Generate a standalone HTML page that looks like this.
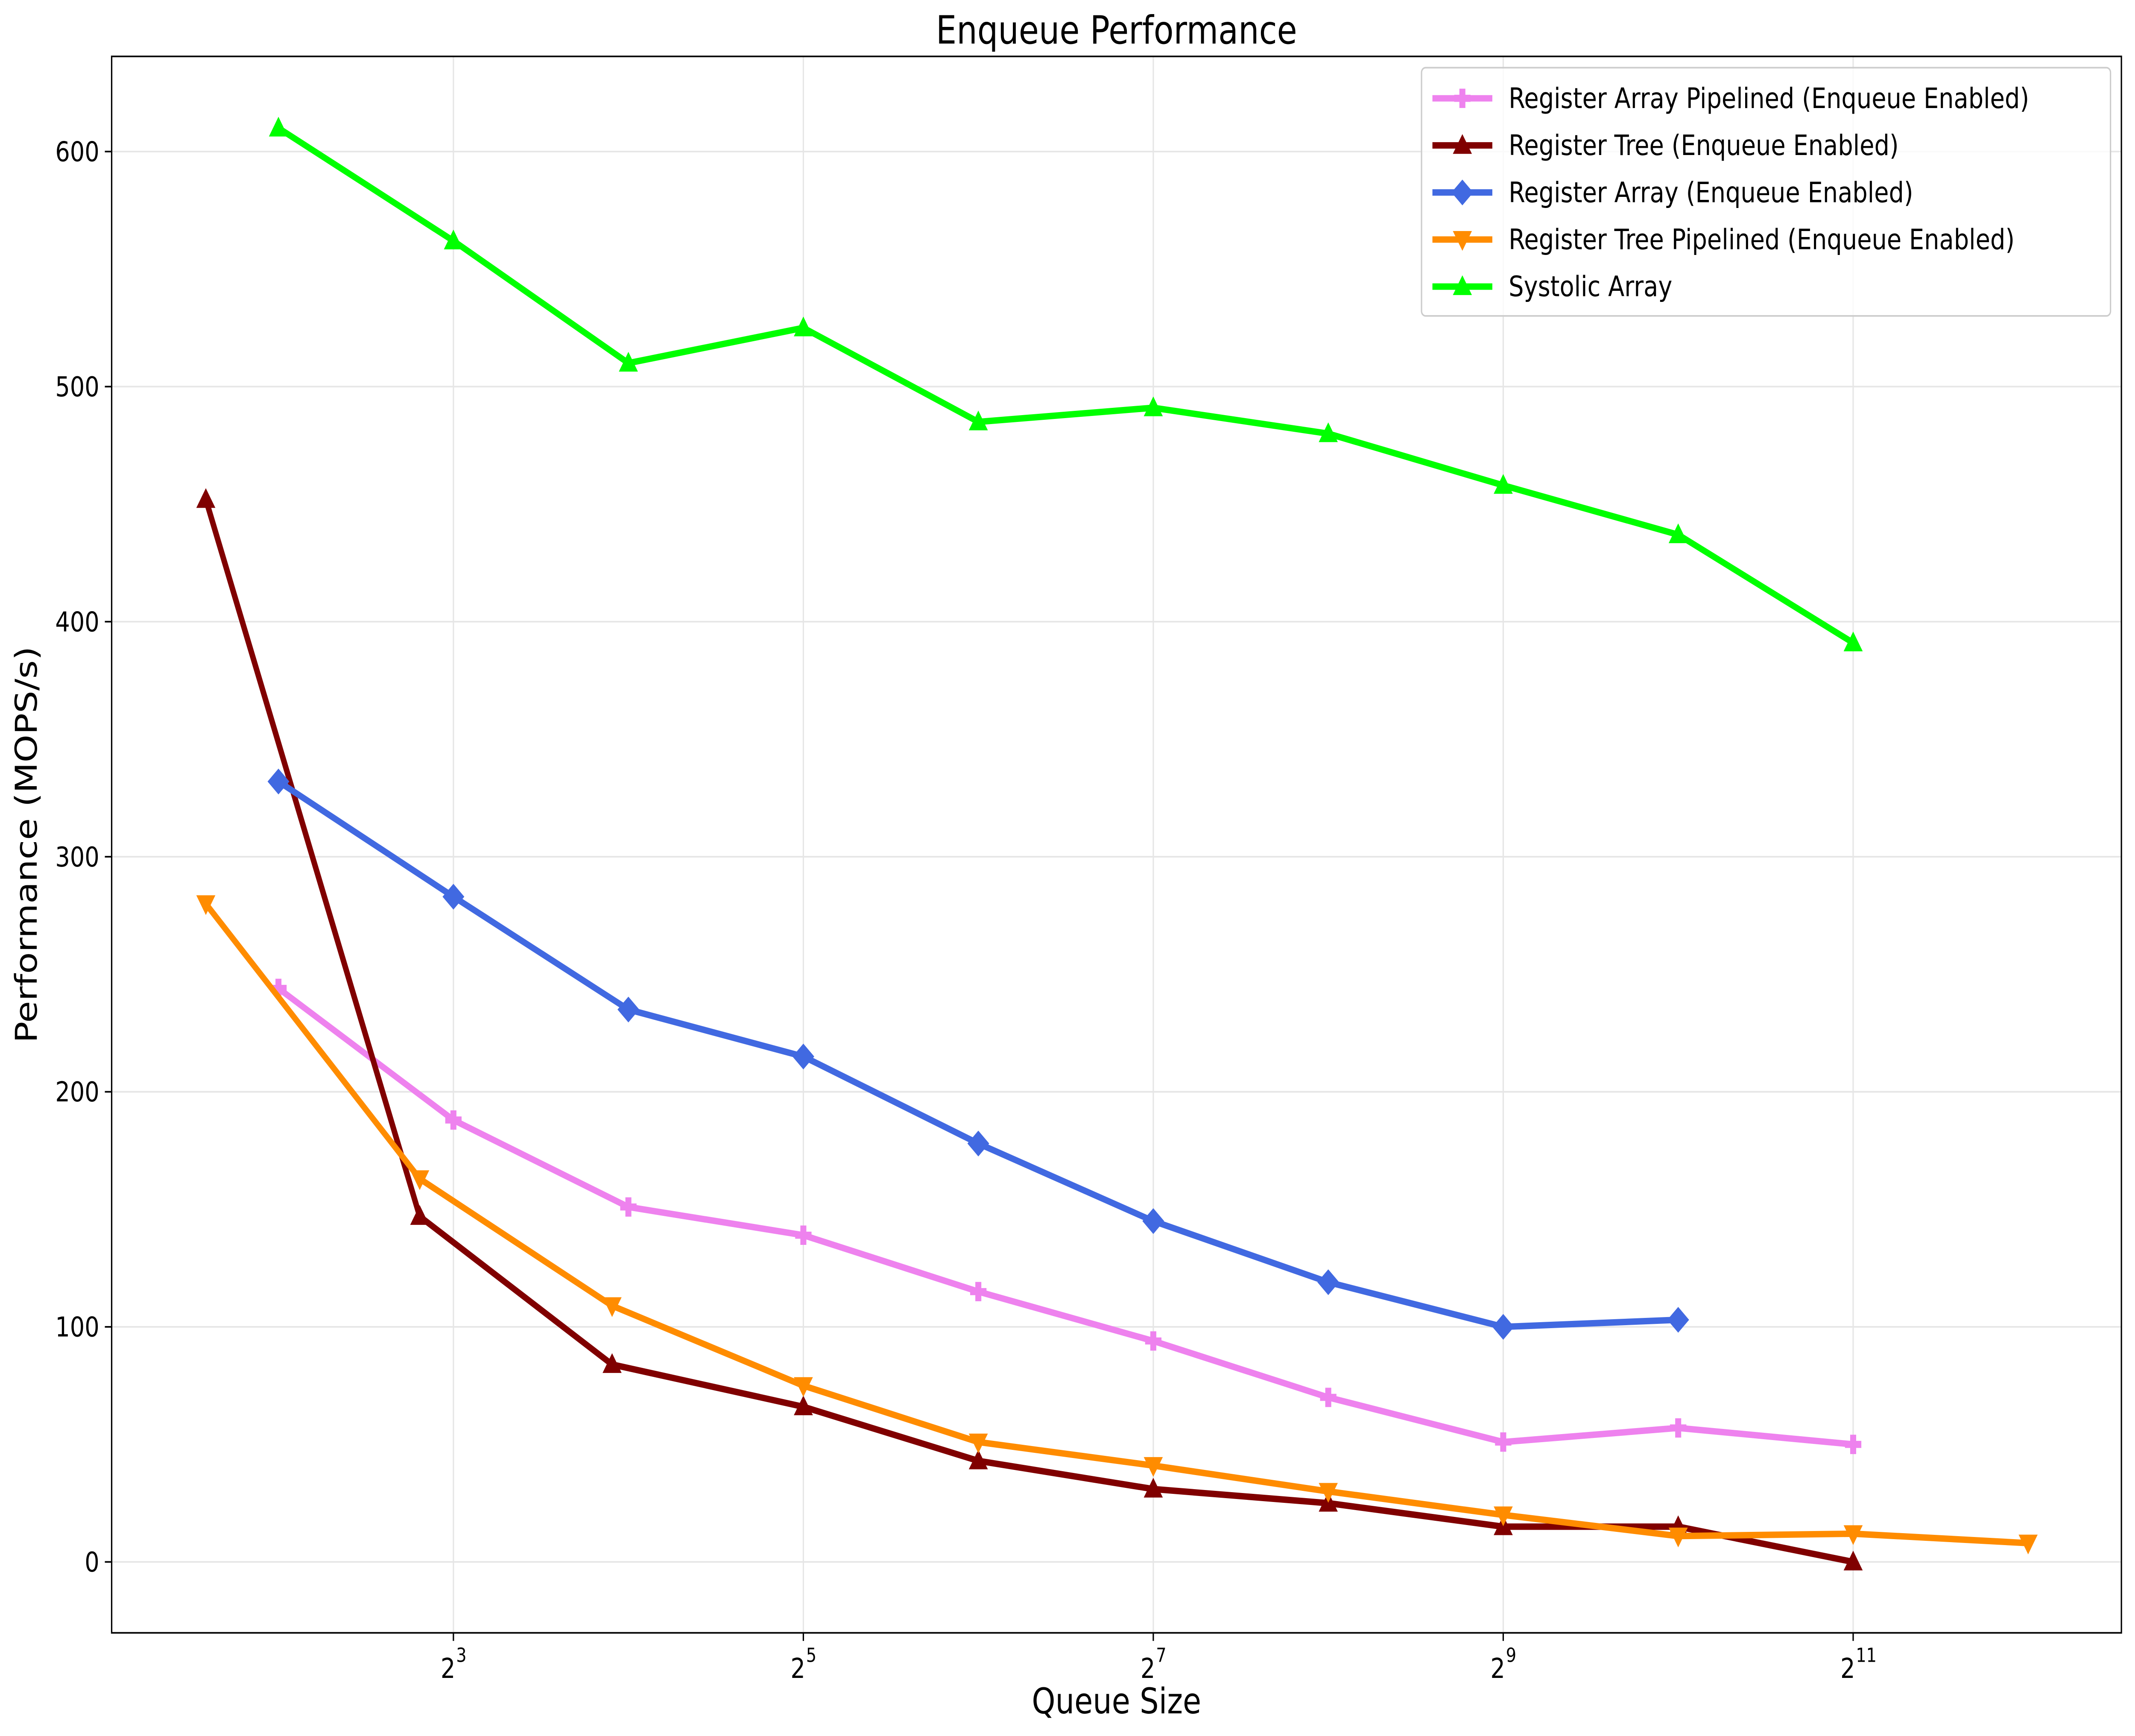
<!DOCTYPE html>
<html><head><meta charset="utf-8"><style>html,body{margin:0;padding:0;background:#fff;width:5000px;height:4065px;overflow:hidden}svg{display:block;width:5000px;height:4065px}text{font-family:"DejaVu Sans","Liberation Sans",sans-serif}</style></head>
<body>
<svg width="5000" height="4065" xmlns="http://www.w3.org/2000/svg">
<g id="chart" transform="scale(3.1888 3.7744)">
<rect x="0" y="0" width="1568" height="1077" fill="#fff"/>
<g id="grid"></g>
<g id="axes"></g>
<g id="series"></g>
<g id="legend"></g>
</g>
</svg>
<script>
const xTickExps = [3, 5, 7, 9, 11];
const yTicks = [0, 100, 200, 300, 400, 500, 600];
const sizesSys = [4, 8, 16, 32, 64, 128, 256, 512, 1024, 2048];
const valsSys = [610, 562, 510, 525, 485, 491, 480, 458, 437, 391];
const sizesBlue = [4, 8, 16, 32, 64, 128, 256, 512, 1024];
const valsBlue = [332, 283, 235, 215, 178, 145, 119, 100, 103];
const sizesPink = [4, 8, 16, 32, 64, 128, 256, 512, 1024, 2048];
const valsPink = [244, 188, 151, 139, 115, 94, 70, 51, 57, 50];
const sizesTree = [3, 7, 15, 32, 64, 128, 256, 512, 1024, 2048];
const valsTree = [452, 147, 84, 66, 43, 31, 25, 15, 15, 0];
const sizesOrange = [3, 7, 15, 32, 64, 128, 256, 512, 1024, 2048, 4096];
const valsOrange = [280, 163, 109, 75, 51, 41, 30, 20, 11, 12, 8];

const NS = 'http://www.w3.org/2000/svg';
const L = 82, R = 1558, T = 35, B = 1013;
function xs(v) { return 333 + (Math.log2(v) - 3) * 128.5; }
function ys(v) { return 969 - v * 1.4583; }
function mk(tag, attrs, parent) { const e = document.createElementNS(NS, tag); for (const k in attrs) e.setAttribute(k, attrs[k]); parent.appendChild(e); return e; }
const grid = document.getElementById('grid'), axes = document.getElementById('axes'), ser = document.getElementById('series'), leg = document.getElementById('legend');

yTicks.forEach(v => {
  const g = mk('line', {x1: L, x2: R, y1: ys(v), y2: ys(v), stroke: '#e6e6e6', 'stroke-width': 1}, grid);
  
  
  mk('line', {x1: L - 5, x2: L, y1: ys(v), y2: ys(v), stroke: '#000', 'stroke-width': 1}, axes);
  const t = mk('text', {x: L - 9, y: ys(v) + 6, 'text-anchor': 'end', 'font-size': 17}, axes);
  t.textContent = v;
  
  
});
xTickExps.forEach(e => {
  const x = xs(Math.pow(2, e));
  const g = mk('line', {x1: x, x2: x, y1: T, y2: B, stroke: '#e6e6e6', 'stroke-width': 1}, grid);
  
  
  mk('line', {x1: x, x2: x, y1: B, y2: B + 5, stroke: '#000', 'stroke-width': 1}, axes);
  const t = mk('text', {x: x - 4, y: B + 28, 'text-anchor': 'middle', 'font-size': 17}, axes);
  t.textContent = '2';
  
  
  const s = mk('text', {x: x + 2, y: B + 18, 'text-anchor': 'start', 'font-size': 12}, axes);
  s.textContent = e;
  
  
});
const frame = mk('rect', {x: L, y: T, width: R - L, height: B - T, fill: 'none', stroke: '#000', 'stroke-width': 1}, axes);



function marker(type, x, y, color, parent) {
  let el;
  const s = 7;
  if (type === 'tri-up') el = mk('polygon', {points: `${x},${y-s} ${x-s},${y+s*0.75} ${x+s},${y+s*0.75}`, fill: color}, parent);
  else if (type === 'tri-down') el = mk('polygon', {points: `${x},${y+s} ${x-s},${y-s*0.75} ${x+s},${y-s*0.75}`, fill: color}, parent);
  else if (type === 'diamond') el = mk('polygon', {points: `${x},${y-8} ${x+8},${y} ${x},${y+8} ${x-8},${y}`, fill: color}, parent);
  else { const a = 6, w = 2.2; el = mk('path', {d: `M${x-w},${y-a}H${x+w}V${y-w}H${x+a}V${y+w}H${x+w}V${y+a}H${x-w}V${y+w}H${x-a}V${y-w}H${x-w}Z`, fill: color}, parent); }
  return el;
}
const seriesDefs = [
  {name: 'Register Array Pipelined (Enqueue Enabled)', key: 'pink', sizes: sizesPink, vals: valsPink, color: 'violet', m: 'plus'},
  {name: 'Register Tree (Enqueue Enabled)', key: 'tree', sizes: sizesTree, vals: valsTree, color: '#800000', m: 'tri-up'},
  {name: 'Register Array (Enqueue Enabled)', key: 'blue', sizes: sizesBlue, vals: valsBlue, color: 'royalblue', m: 'diamond'},
  {name: 'Register Tree Pipelined (Enqueue Enabled)', key: 'orange', sizes: sizesOrange, vals: valsOrange, color: 'darkorange', m: 'tri-down'},
  {name: 'Systolic Array', key: 'systolic', sizes: sizesSys, vals: valsSys, color: 'lime', m: 'tri-up'}
];
seriesDefs.forEach(d => {
  const g = mk('g', {}, ser);
  
  
  const pts = d.sizes.map((s, i) => xs(s) + ',' + ys(d.vals[i])).join(' ');
  const pl = mk('polyline', {points: pts, fill: 'none', stroke: d.color, 'stroke-width': 4, 'stroke-linejoin': 'round'}, g);
  
  
  d.sizes.forEach((s, i) => {
    const m = marker(d.m, xs(s), ys(d.vals[i]), d.color, g);
    
    
  });
});

const lb = mk('rect', {x: 1044, y: 42, width: 506, height: 154, fill: '#fff', 'fill-opacity': 0.8, stroke: '#ccc', rx: 3}, leg);


seriesDefs.forEach((d, i) => {
  const y = 61 + i * 29.2;
  const g = mk('g', {}, leg);
  
  
  mk('line', {x1: 1052, x2: 1096, y1: y, y2: y, stroke: d.color, 'stroke-width': 4}, g);
  marker(d.m, 1074, y, d.color, g);
  const t = mk('text', {x: 1108, y: y + 6, 'font-size': 17.5}, g);
  t.textContent = d.name;
});

function label(txt, attrs, name) { const t = mk('text', attrs, document.getElementById('chart')); t.textContent = txt;   }
label('Enqueue Performance', {x: 820, y: 27, 'text-anchor': 'middle', 'font-size': 24}, 'chart-title');
label('Queue Size', {x: 820, y: 1063, 'text-anchor': 'middle', 'font-size': 22}, 'x-axis-title');
label('Performance (MOPS/s)', {x: 27, y: 524, 'text-anchor': 'middle', 'font-size': 22, transform: 'rotate(-90 27 524)'}, 'y-axis-title');
</script>
</body></html>
